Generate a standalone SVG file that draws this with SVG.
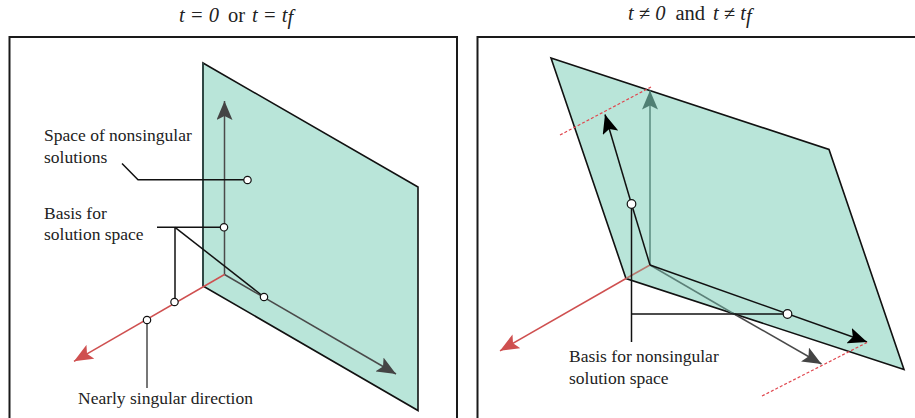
<svg xmlns="http://www.w3.org/2000/svg" width="915" height="418" viewBox="0 0 915 418">
<style>
text{font-family:"Liberation Serif","Times New Roman",serif;font-size:17.5px;fill:#222}
.title{font-size:20.5px}
.i{font-style:italic}
.frame{fill:none;stroke:#1a1a1a;stroke-width:2}
.plane{fill:#b9e5d9;stroke:#111;stroke-width:1.6;stroke-linejoin:miter}
.dot{fill:#fff;stroke:#111;stroke-width:1.2}
.lead{fill:none;stroke:#111;stroke-width:1.5}
.red{fill:none;stroke:#cf5050;stroke-width:1.5}
.grey{fill:none;stroke:#4a4a4a;stroke-width:1.5}
.dash{fill:none;stroke:#e0474f;stroke-width:1.2;stroke-dasharray:3 2}
</style>
<defs>
<marker id="aGrey" markerUnits="userSpaceOnUse" markerWidth="20" markerHeight="16" refX="19" refY="8" orient="auto"><path d="M0 0L19 8L0 16L4 8Z" fill="#444"/></marker>
<marker id="aBlack" markerUnits="userSpaceOnUse" markerWidth="20" markerHeight="16" refX="19" refY="8" orient="auto"><path d="M0 0L19 8L0 16L4 8Z" fill="#000"/></marker>
<marker id="aRed" markerUnits="userSpaceOnUse" markerWidth="20" markerHeight="16" refX="19" refY="8" orient="auto"><path d="M0 0L19 8L0 16L4 8Z" fill="#cf5050"/></marker>
<marker id="aGreen" markerUnits="userSpaceOnUse" markerWidth="20" markerHeight="16" refX="19" refY="8" orient="auto"><path d="M0 0L19 8L0 16L4 8Z" fill="#4f7f73"/></marker>
</defs>

<g id="frames">
<path class="frame" d="M9.5 37H457V419H9.5Z"/>
<path class="frame" d="M477.5 37H917V419H477.5Z"/>
</g>

<g id="titles">
<text class="title" y="22"><tspan class="i" x="179">t = 0</tspan><tspan x="228">or</tspan><tspan class="i" x="252">t = t</tspan><tspan class="i" dy="2">f</tspan></text>
<text class="title" y="20"><tspan class="i" x="628">t ≠ 0</tspan><tspan x="675.500">and</tspan><tspan class="i" x="713">t ≠ t</tspan><tspan class="i" dy="3">f</tspan></text>
</g>

<g id="plane-left"><path class="plane" d="M203 63L418 187V410.500L203 286Z"/></g>
<g id="plane-right"><path class="plane" d="M551 58L829 149.500L904 369.500L626 278.500Z"/></g>

<g id="connectors">
<path d="M203 63V286" fill="none" stroke="#2f4a46" stroke-width="1.800"/>
<path class="grey" d="M224.500 274.500V101" marker-end="url(#aGrey)"/>
<path class="grey" d="M224.500 274.500L396 374" marker-end="url(#aGrey)"/>
<path class="red" d="M224.500 274.500L74 361.300" marker-end="url(#aRed)"/>
<path class="lead" d="M122 163.500L138 179.700H247"/>
<path class="lead" d="M157 227.300H224"/>
<path class="lead" d="M175 227.300V302"/>
<path class="lead" d="M175 227.300L264 297"/>
<path class="grey" d="M147 320V388"/>

<path d="M650 265V90.500" fill="none" stroke="#5a8a7e" stroke-width="1.500" marker-end="url(#aGreen)"/>
<path d="M650 265L626 278.500" fill="none" stroke="#b77a70" stroke-width="1.500"/>
<path class="red" d="M626 278.500L500 350.800" marker-end="url(#aRed)"/>
<path d="M650 265L735 314.500" fill="none" stroke="#5c8078" stroke-width="1.500"/>
<path class="grey" d="M735 314.500L821.500 364" marker-end="url(#aGrey)"/>
<path class="lead" d="M650 265L631.500 204"/>
<path class="lead" d="M631.500 204L605 114.500" marker-end="url(#aBlack)"/>
<path class="lead" d="M650 265L867 342" marker-end="url(#aBlack)"/>
<path class="lead" d="M631.500 204V342"/>
<path class="lead" d="M631.500 314H787"/>
<path class="dash" d="M560 135L651 87"/>
<path class="dash" d="M762 396L868 342"/>
</g>

<g id="dot-left-space"><circle class="dot" cx="247.500" cy="180" r="3.700"/></g>
<g id="dot-left-up"><circle class="dot" cx="224" cy="227.300" r="3.700"/></g>
<g id="dot-left-right"><circle class="dot" cx="264" cy="297" r="3.700"/></g>
<g id="dot-left-red1"><circle class="dot" cx="174.500" cy="302" r="3.700"/></g>
<g id="dot-left-red2"><circle class="dot" cx="147" cy="320" r="3.700"/></g>
<g id="dot-right-up"><circle class="dot" cx="631.500" cy="204" r="4.300"/></g>
<g id="dot-right-right"><circle class="dot" cx="787.500" cy="314" r="4.300"/></g>

<g id="labels">
<text x="44" y="141">Space of nonsingular</text>
<text x="44" y="162.500">solutions</text>
<text x="44" y="219">Basis for</text>
<text x="44" y="240">solution space</text>
<text x="78" y="404">Nearly singular direction</text>
<text x="569" y="362">Basis for nonsingular</text>
<text x="569" y="383.500">solution space</text>
</g>
</svg>
